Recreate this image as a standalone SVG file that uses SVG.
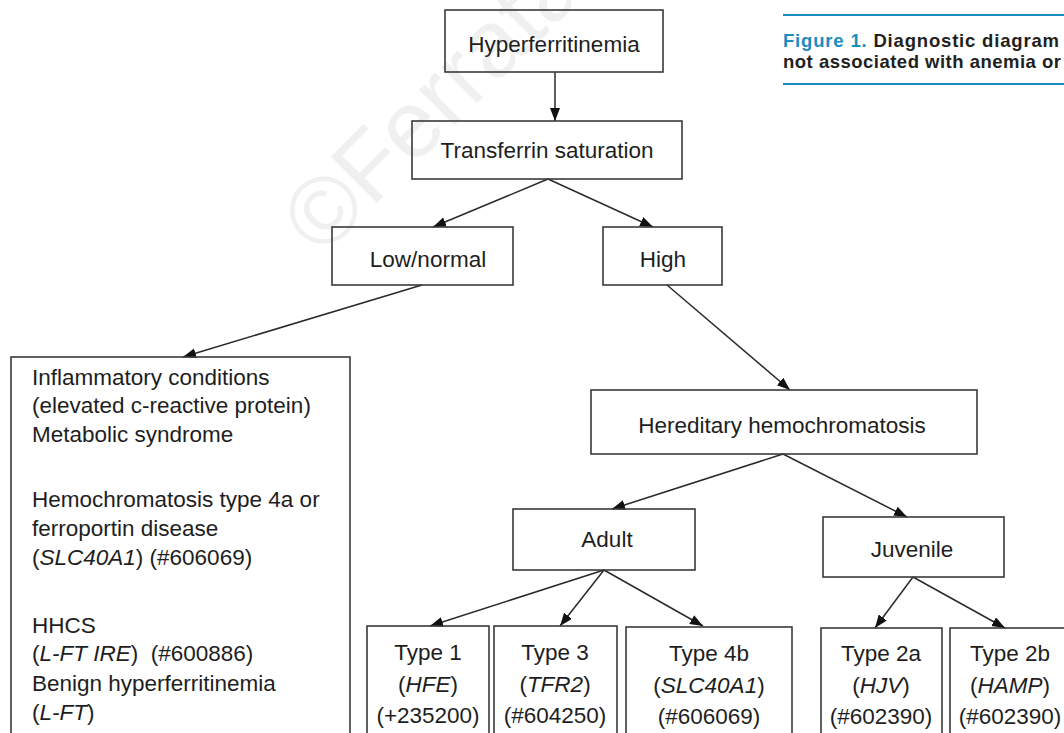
<svg xmlns="http://www.w3.org/2000/svg" width="1064" height="733" viewBox="0 0 1064 733">
<style>
.box{fill:none;stroke:#3a3a3a;stroke-width:1.6}
.t{font-family:"Liberation Sans",Arial,sans-serif;font-size:22.5px;fill:#1e1e1e}
.c{text-anchor:middle}
.i{font-style:italic}
.con{stroke:#2a2a2a;stroke-width:1.5;fill:none;marker-end:url(#ah)}
.cap{font-family:"Liberation Sans",Arial,sans-serif;font-size:18.5px;font-weight:bold;fill:#231f20}
</style>
<defs>
<marker id="ah" markerUnits="userSpaceOnUse" markerWidth="14" markerHeight="12" refX="13" refY="5" orient="auto">
<path d="M0,0 L13,5 L0,10 Z" fill="#111"/>
</marker>
</defs>
<rect width="1064" height="733" fill="#fff"/>
<text x="322" y="258" transform="rotate(-45 322 258)" font-family="Liberation Sans,Arial,sans-serif" font-size="95" fill="#f0f0f0">©Ferrata</text>
<g id="caption">
<line x1="783" y1="15" x2="1064" y2="15" stroke="#1b8dc0" stroke-width="2"/>
<text class="cap" x="783" y="47" textLength="276" lengthAdjust="spacing"><tspan fill="#1b8dc0">Figure 1.</tspan> Diagnostic diagram</text>
<text class="cap" x="783" y="68" textLength="278" lengthAdjust="spacing">not associated with anemia or</text>
<line x1="783" y1="84" x2="1064" y2="84" stroke="#1b8dc0" stroke-width="2"/>
</g>
<g id="connectors">
<line class="con" x1="555" y1="72" x2="555" y2="121"/>
<line class="con" x1="548" y1="179" x2="433" y2="227"/>
<line class="con" x1="548" y1="179" x2="653" y2="227"/>
<line class="con" x1="422" y1="285" x2="183" y2="357"/>
<line class="con" x1="667" y1="285" x2="790" y2="390"/>
<line class="con" x1="783" y1="454" x2="612" y2="509"/>
<line class="con" x1="783" y1="454" x2="907" y2="517"/>
<line class="con" x1="604" y1="570" x2="430" y2="626"/>
<line class="con" x1="604" y1="570" x2="560" y2="626"/>
<line class="con" x1="604" y1="570" x2="703" y2="626"/>
<line class="con" x1="913" y1="577" x2="875" y2="628"/>
<line class="con" x1="913" y1="577" x2="1005" y2="628"/>
</g>
<g id="hyperferritinemia">
<rect class="box" x="445" y="10" width="218" height="62"/>
<text class="t c" x="554" y="52">Hyperferritinemia</text>
</g>
<g id="transferrin">
<rect class="box" x="412" y="121" width="270" height="58"/>
<text class="t c" x="547" y="158">Transferrin saturation</text>
</g>
<g id="lownormal">
<rect class="box" x="332" y="227" width="181" height="58"/>
<text class="t c" x="428" y="267">Low/normal</text>
</g>
<g id="high">
<rect class="box" x="603" y="227" width="119" height="58"/>
<text class="t c" x="663" y="267">High</text>
</g>
<g id="lowlist">
<rect class="box" x="11" y="357" width="339" height="390"/>
<text class="t" x="32" y="385">Inflammatory conditions</text>
<text class="t" x="32" y="413">(elevated c-reactive protein)</text>
<text class="t" x="32" y="442">Metabolic syndrome</text>
<text class="t" x="32" y="507">Hemochromatosis type 4a or</text>
<text class="t" x="32" y="536">ferroportin disease</text>
<text class="t" x="32" y="565">(<tspan class="i">SLC40A1</tspan>) (#606069)</text>
<text class="t" x="32" y="633">HHCS</text>
<text class="t" x="32" y="661" xml:space="preserve">(<tspan class="i">L-FT IRE</tspan>)  (#600886)</text>
<text class="t" x="32" y="691">Benign hyperferritinemia</text>
<text class="t" x="32" y="720">(<tspan class="i">L-FT</tspan>)</text>
</g>
<g id="hereditary">
<rect class="box" x="591" y="390" width="386" height="64"/>
<text class="t c" x="782" y="433">Hereditary hemochromatosis</text>
</g>
<g id="adult">
<rect class="box" x="513" y="509" width="182" height="61"/>
<text class="t c" x="607" y="547">Adult</text>
</g>
<g id="juvenile">
<rect class="box" x="823" y="517" width="181" height="60"/>
<text class="t c" x="912" y="557">Juvenile</text>
</g>
<g id="type1">
<rect class="box" x="367" y="626" width="122" height="120"/>
<text class="t c" x="428" y="660">Type 1</text>
<text class="t c" x="428" y="692">(<tspan class="i">HFE</tspan>)</text>
<text class="t c" x="428" y="723">(+235200)</text>
</g>
<g id="type3">
<rect class="box" x="494" y="626" width="123" height="120"/>
<text class="t c" x="555" y="660">Type 3</text>
<text class="t c" x="555" y="692">(<tspan class="i">TFR2</tspan>)</text>
<text class="t c" x="555" y="723">(#604250)</text>
</g>
<g id="type4b">
<rect class="box" x="626" y="627" width="166" height="120"/>
<text class="t c" x="709" y="661">Type 4b</text>
<text class="t c" x="709" y="693">(<tspan class="i">SLC40A1</tspan>)</text>
<text class="t c" x="709" y="724">(#606069)</text>
</g>
<g id="type2a">
<rect class="box" x="821" y="628" width="121" height="120"/>
<text class="t c" x="881" y="661">Type 2a</text>
<text class="t c" x="881" y="693">(<tspan class="i">HJV</tspan>)</text>
<text class="t c" x="881" y="724">(#602390)</text>
</g>
<g id="type2b">
<rect class="box" x="950" y="628" width="121" height="120"/>
<text class="t c" x="1010" y="661">Type 2b</text>
<text class="t c" x="1010" y="693">(<tspan class="i">HAMP</tspan>)</text>
<text class="t c" x="1010" y="724">(#602390)</text>
</g>
</svg>
